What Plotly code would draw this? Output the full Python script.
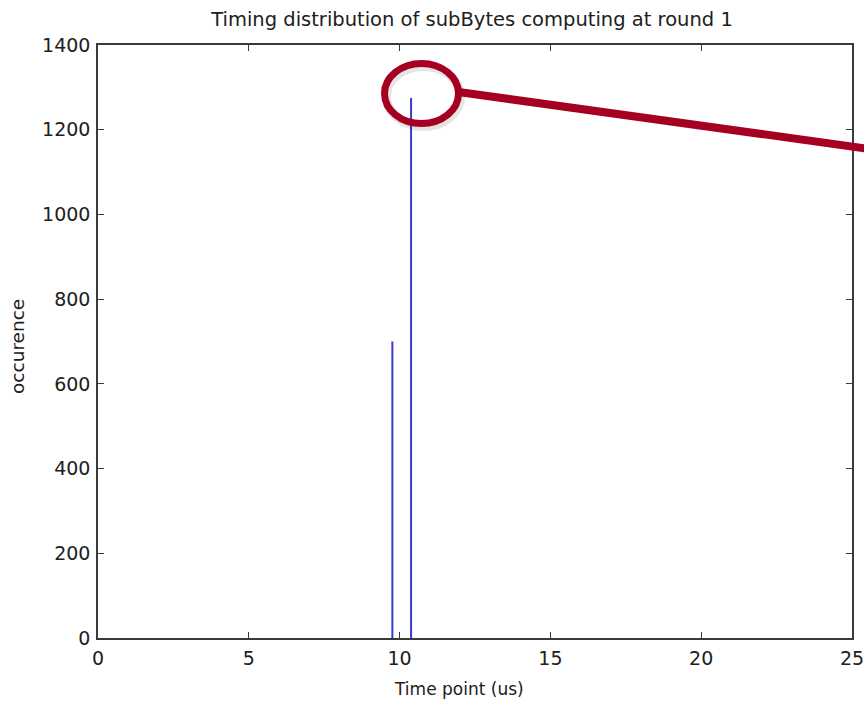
import plotly.graph_objects as go

# Timing histogram of the subBytes step (round 1)
time_us = [9.76, 10.38]
occurence = [700, 1275]

x_ticks = [0, 5, 10, 15, 20, 25]
y_ticks = [0, 200, 400, 600, 800, 1000, 1200, 1400]

W, H = 864, 703
L, R, T, B = 98, 12, 45, 65
pw, ph = W - L - R, H - T - B

# each count drawn as a vertical stem from zero
xs, ys = [], []
for t, c in zip(time_us, occurence):
    xs += [t, t, None]
    ys += [0, c, None]

fig = go.Figure()
fig.add_trace(go.Scatter(x=xs, y=ys, mode="lines",
                         line=dict(color="#3b3bcf", width=2),
                         hoverinfo="skip", showlegend=False))

FAM = "DejaVu Sans, Liberation Sans, Arial"
INK = "#202020"
tickfont = dict(family=FAM, size=19, color=INK)
axis_common = dict(showline=True, linecolor="#3a3a3a", linewidth=1.5, mirror="ticks",
                   ticks="inside", ticklen=6, tickwidth=1.2, tickcolor="#3a3a3a",
                   showgrid=False, zeroline=False, tickfont=tickfont, automargin=False,
                   ticklabeloverflow="allow")

fig.update_layout(
    width=W, height=H,
    margin=dict(l=L, r=R, t=T, b=B, autoexpand=False),
    paper_bgcolor="white", plot_bgcolor="white",
    title=dict(text="Timing distribution of subBytes computing at round 1",
               x=472 / W, xanchor="center", y=1 - 19 / H, yanchor="middle",
               font=dict(family=FAM, size=19.5, color=INK)),
    xaxis=dict(range=[0, 25], tickvals=x_ticks, ticktext=[str(v) for v in x_ticks],
               ticklabelstandoff=2, **axis_common),
    yaxis=dict(range=[0, 1400], tickvals=y_ticks, ticktext=[str(v) for v in y_ticks],
               ticklabelstandoff=2, **axis_common),
)

def px_x(p):
    return (p - L) / pw

def px_y(p):
    return (H - B - p) / ph

# axis titles
fig.add_annotation(text="Time point (us)", xref="paper", yref="paper",
                   x=px_x(459), y=px_y(689), xanchor="center", yanchor="middle",
                   showarrow=False, font=dict(family=FAM, size=17, color=INK))
fig.add_annotation(text="occurence", xref="paper", yref="paper", textangle=-90,
                   x=px_x(18), y=px_y(347), xanchor="center", yanchor="middle",
                   showarrow=False, font=dict(family=FAM, size=18.5, color=INK))

# red callout: ellipse around the tallest peak and a pointer line leaving to the right
red = "#a50021"
cx, cy, rx, ry = 421.5, 93.5, 37, 30
# soft shadow under the ellipse
fig.add_shape(type="circle", xref="paper", yref="paper",
              x0=px_x(cx - rx + 2), x1=px_x(cx + rx + 2),
              y0=px_y(cy + ry + 3), y1=px_y(cy - ry + 3),
              line=dict(color="rgba(0,0,0,0.10)", width=9))
fig.add_shape(type="line", xref="paper", yref="paper",
              x0=px_x(cx + rx), y0=px_y(92), x1=px_x(W + 2), y1=px_y(148.5),
              line=dict(color=red, width=8))
fig.add_shape(type="circle", xref="paper", yref="paper",
              x0=px_x(cx - rx), x1=px_x(cx + rx),
              y0=px_y(cy + ry), y1=px_y(cy - ry),
              line=dict(color=red, width=7))

fig.write_html("out.html")
